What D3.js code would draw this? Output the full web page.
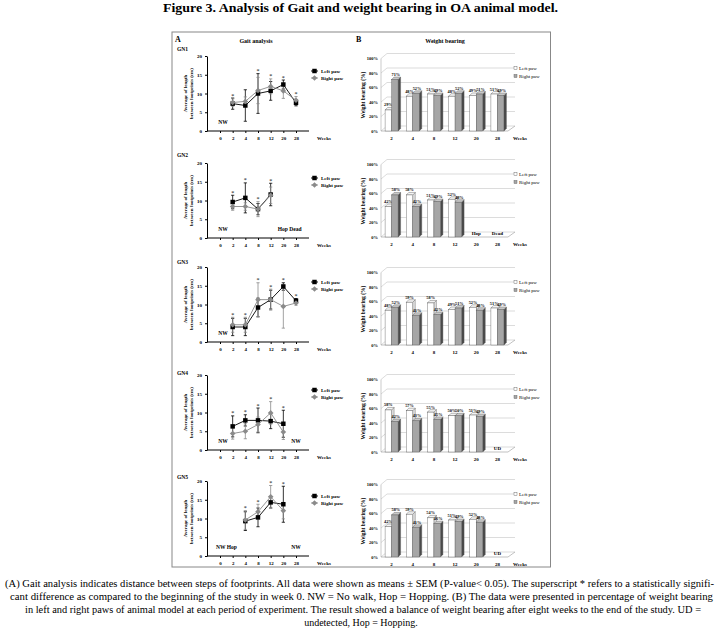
<!DOCTYPE html>
<html><head><meta charset="utf-8">
<script src="https://cdn.jsdelivr.net/npm/d3@7"></script>
<style>body{margin:0;background:#fff} svg{display:block} text{font-family:"Liberation Serif","Times New Roman",serif}</style>
</head><body><svg id="c" width="722" height="634"></svg><script>
const weeks=["0","2","4","8","12","20","28"];
const barWeeks=["2","4","8","12","20","28"];
const groups=["GN1","GN2","GN3","GN4","GN5"];
const gaitTicks=[0,5,10,15,20];
const wbTicks=[0,20,40,60,80,100];
const gaitLeft=[
 [null,7.3,6.8,10.0,10.7,12.4,7.5],
 [null,9.6,10.7,7.7,11.6,null,null],
 [null,4.0,4.0,9.2,11.3,14.8,11.0],
 [null,6.3,7.9,7.9,7.7,7.0,null],
 [null,null,9.3,10.3,14.3,13.8,null]];
const gaitLeftErr=[
 [null,1.5,4.2,5.3,2.5,1.2,0.8],
 [null,1.8,4.0,1.5,3.0,null,null],
 [null,2.3,2.3,2.5,2.5,1.0,0.6],
 [null,2.8,1.5,3.3,2.0,3.6,null],
 [null,null,2.5,2.5,1.5,4.8,null]];
const gaitRight=[
 [null,7.6,7.9,10.8,11.9,10.7,8.2],
 [null,8.4,8.4,7.7,11.4,null,null],
 [null,4.6,4.6,11.3,11.3,9.5,10.4],
 [null,4.4,5.0,6.8,9.9,4.8,null],
 [null,null,9.6,11.8,15.8,12.1,null]];
const gaitRightErr=[
 [null,1.0,1.2,3.5,2.0,2.0,1.0],
 [null,1.0,1.0,2.0,2.2,null,null],
 [null,2.0,2.0,4.5,2.8,5.8,0.6],
 [null,1.5,2.0,2.0,3.0,2.0,null],
 [null,null,2.5,2.0,3.0,2.2,null]];
const gaitStars=[["2","8","12","20","28"],["2","4","8","12"],["2","4","8","12","20","28"],["2","4","8","12","20"],["4","8","12","20"]];
const gaitNotes=[
 [{t:"NW",w:["0"]}],
 [{t:"NW",w:["0"]},{t:"Hop Dead",w:["20","28"]}],
 [{t:"NW",w:["0"]}],
 [{t:"NW",w:["0"]},{t:"NW",w:["28"]}],
 [{t:"NW Hop",w:["0","2"]},{t:"NW",w:["28"]}]];
const wbLeft=[
 [29,48,51,48,49,51],
 [42,58,51,52,null,null],
 [48,59,58,49,52,51],
 [58,57,55,50,51,null],
 [42,59,54,51,52,null]];
const wbRight=[
 [71,52,49,52,51,49],
 [58,42,49,48,null,null],
 [52,41,42,51,48,49],
 [42,43,45,50,49,null],
 [58,41,46,49,48,null]];
const wbNotes=[{},{"20":"Hop","28":"Dead"},{},{"28":"UD"},{"28":"UD"}];
const seriesNames=["Left paw","Right paw"];
const caption=[
 "(A) Gait analysis indicates distance between steps of footprints. All data were shown as means \u00B1 SEM (P-value< 0.05). The superscript * refers to a statistically signifi-",
 "cant difference as compared to the beginning of the study in week 0. NW = No walk, Hop = Hopping. (B) The data were presented in percentage of weight bearing",
 "in left and right paws of animal model at each period of experiment. The result showed a balance of weight bearing after eight weeks to the end of the study. UD =",
 "undetected, Hop = Hopping."];

const svg=d3.select("#c");
svg.append("text").attr("x",163).attr("y",12).attr("textLength",395).attr("lengthAdjust","spacingAndGlyphs")
 .style("font-weight","bold").style("font-size","12.5px").text("Figure 3. Analysis of Gait and weight bearing in OA animal model.");
svg.append("rect").attr("x",172).attr("y",32).attr("width",378.5).attr("height",535).attr("fill","none").attr("stroke","#888").attr("stroke-width",1);
const hdr=(x,y,t,s,a)=>svg.append("text").attr("x",x).attr("y",y).attr("text-anchor",a||"start").style("font-weight","bold").style("font-size",s+"px").text(t);
hdr(175,42,"A",8); hdr(256,43,"Gait analysis",6,"middle");
hdr(356,42,"B",8); hdr(445,43,"Weight bearing",6,"middle");

const gaitBase=[131,238,342,450,556];
const gnY=[51,157,264,375,479];
const barBase=[131,237,345,452,557];
const gx=d3.scalePoint(weeks,[220,296]);

groups.forEach((gn,r)=>{
 const g=svg.append("g");
 const y0=gaitBase[r];
 const gy=d3.scaleLinear([0,20],[y0,y0-75]);
 g.append("text").attr("x",177).attr("y",gnY[r]).style("font-weight","bold").style("font-size","5.5px").text(gn);
 const ya=g.append("g").attr("transform","translate(207,0)").call(d3.axisLeft(gy).tickValues(gaitTicks).tickSize(2).tickSizeOuter(0));
 ya.selectAll("text").style("font-size","5px").style("font-weight","bold").style("font-family","Liberation Serif");
 ya.select(".domain").attr("stroke","#000");
 const xa=g.append("g").attr("transform",`translate(0,${y0})`).call(d3.axisBottom(gx).tickSize(2).tickPadding(3));
 xa.select(".domain").remove();
 xa.selectAll("text").style("font-size","5px").style("font-weight","bold").style("font-family","Liberation Serif");
 g.append("line").attr("x1",207).attr("x2",309).attr("y1",y0).attr("y2",y0).attr("stroke","#000");
 g.append("text").attr("x",317).attr("y",y0+8.5).style("font-size","5px").style("font-weight","bold").text("Weeks");
 const yt=g.append("text").attr("transform",`translate(188,${y0-37.5}) rotate(-90)`).attr("text-anchor","middle").style("font-size","5px").style("font-weight","bold");
 yt.append("tspan").attr("x",0).attr("dy",-1).text("Average of length");
 yt.append("tspan").attr("x",0).attr("dy",5.5).text("between footprints (cm)");
 const series=[{v:gaitLeft[r],e:gaitLeftErr[r],c:"#000"},{v:gaitRight[r],e:gaitRightErr[r],c:"#8a8a8a"}];
 series.forEach((s,si)=>{
  weeks.forEach((w,i)=>{
   if(s.v[i]==null) return;
   const x=gx(w), t=gy(s.v[i]+s.e[i]), b=gy(s.v[i]-s.e[i]);
   g.append("line").attr("x1",x).attr("x2",x).attr("y1",t).attr("y2",b).attr("stroke",s.c).attr("stroke-width",0.8);
   [t,b].forEach(yy=>g.append("line").attr("x1",x-1.6).attr("x2",x+1.6).attr("y1",yy).attr("y2",yy).attr("stroke",s.c).attr("stroke-width",0.8));
  });
 });
 series.forEach((s,si)=>{
  const pts=weeks.map((w,i)=>({w,v:s.v[i]}));
  g.append("path").attr("d",d3.line().defined(d=>d.v!=null).x(d=>gx(d.w)).y(d=>gy(d.v))(pts))
   .attr("fill","none").attr("stroke",s.c).attr("stroke-width",0.9);
  pts.filter(d=>d.v!=null).forEach(d=>{
   g.append("path").attr("transform",`translate(${gx(d.w)},${gy(d.v)})${si?" rotate(45)":""}`)
    .attr("d",d3.symbol(d3.symbolSquare,si?16:20)()).attr("fill",s.c);
  });
 });
 gaitStars[r].forEach(w=>{
  const i=weeks.indexOf(w);
  let top=0;
  series.forEach(s=>{ if(s.v[i]!=null) top=Math.max(top,s.v[i]+s.e[i]); });
  g.append("text").attr("x",gx(w)).attr("y",gy(top)-0.5).attr("text-anchor","middle").style("font-size","6px").text("*");
 });
 gaitNotes[r].forEach(n=>{
  const x=d3.mean(n.w,w=>gx(w))+(n.w.length==1&&n.w[0]=="0"?3:0);
  g.append("text").attr("x",x).attr("y",gy(2.5)+2).attr("text-anchor","middle").style("font-size","5.5px").style("font-weight","bold").text(n.t);
 });
 const top=y0-75;
 series.forEach((s,si)=>{
  const ly=top+15+si*7;
  g.append("line").attr("x1",311).attr("x2",318).attr("y1",ly).attr("y2",ly).attr("stroke",s.c).attr("stroke-width",0.9);
  g.append("path").attr("transform",`translate(314.5,${ly})${si?" rotate(45)":""}`).attr("d",d3.symbol(d3.symbolSquare,si?16:20)()).attr("fill",s.c);
  g.append("text").attr("x",321).attr("y",ly+1.8).style("font-size","5px").style("font-weight","bold").text(seriesNames[si]);
 });

 const b0=barBase[r];
 const by=d3.scaleLinear([0,100],[b0,b0-72.5]);
 const bx=d3.scaleBand(barWeeks,[381,508]);
 const wdx=6, wdy=-5;
 wbTicks.forEach(t=>{
  g.append("path").attr("d",`M381,${by(t)}L${381+wdx},${by(t)+wdy}L515,${by(t)+wdy}`).attr("fill","none").attr("stroke","#c4c4c4").attr("stroke-width",0.6);
  g.append("text").attr("x",378).attr("y",by(t)+1.6).attr("text-anchor","end").style("font-size","4.5px").style("font-weight","bold").text(t+"%");
 });
 g.append("line").attr("x1",381).attr("x2",381).attr("y1",b0).attr("y2",by(100)).attr("stroke","#aaa").attr("stroke-width",0.6);
 g.append("path").attr("d",`M381,${b0}L508,${b0}L515,${b0+wdy}`).attr("fill","none").attr("stroke","#999").attr("stroke-width",0.6);
 g.append("text").attr("transform",`translate(365,${b0-36}) rotate(-90)`).attr("text-anchor","middle").style("font-size","5.5px").style("font-weight","bold").text("Weight bearing (%)");
 const bw=6.5, d=2.5;
 barWeeks.forEach((w,i)=>{
  const c=bx(w)+bx.bandwidth()/2;
  g.append("text").attr("x",c).attr("y",b0+8.5).attr("text-anchor","middle").style("font-size","5px").style("font-weight","bold").text(w);
  [[wbLeft[r][i],c-bw,["#fff","#e0e0e0","#f4f4f4"]],[wbRight[r][i],c,["#a6a6a6","#4a4a4a","#c8c8c8"]]].forEach(([v,x0,col],k)=>{
   if(v==null) return;
   const x1=x0+bw, t=by(v);
   g.append("path").attr("d",`M${x1},${t}L${x1+d},${t-d}L${x1+d},${b0-d}L${x1},${b0}Z`).attr("fill",col[1]).attr("stroke","#555").attr("stroke-width",0.4);
   g.append("path").attr("d",`M${x0},${t}L${x0+d},${t-d}L${x1+d},${t-d}L${x1},${t}Z`).attr("fill",col[2]).attr("stroke","#555").attr("stroke-width",0.4);
   g.append("rect").attr("x",x0).attr("y",t).attr("width",bw).attr("height",b0-t).attr("fill",col[0]).attr("stroke","#555").attr("stroke-width",0.4);
   g.append("text").attr("x",x0+bw/2+(k?1:0)).attr("y",t-3.5).attr("text-anchor","middle").style("font-size","4.3px").style("font-weight","bold").text(v+"%");
  });
  if(wbNotes[r][w]) g.append("text").attr("x",c).attr("y",b0-2).attr("text-anchor","middle").style("font-size","5px").style("font-weight","bold").text(wbNotes[r][w]);
 });
 g.append("text").attr("x",513).attr("y",b0+8.5).style("font-size","5px").style("font-weight","bold").text("Weeks");
 [["#fff"],["#a6a6a6"]].forEach(([f],k)=>{
  const ly=by(100)+11+k*8;
  g.append("rect").attr("x",514).attr("y",ly-3).attr("width",3).attr("height",3).attr("fill",f).attr("stroke","#555").attr("stroke-width",0.4);
  g.append("text").attr("x",519).attr("y",ly).style("font-size","5px").text(seriesNames[k]);
 });
});

const capY=[587,600,613,626];
const capW=[[5,709],[10,703],[25,676]];
caption.forEach((t,i)=>{
 const tx=svg.append("text").attr("y",capY[i]).style("font-size","10px").text(t);
 if(i<3) tx.attr("x",capW[i][0]).attr("textLength",capW[i][1]).attr("lengthAdjust","spacingAndGlyphs");
 else tx.attr("x",361).attr("text-anchor","middle");
});
</script></body></html>
